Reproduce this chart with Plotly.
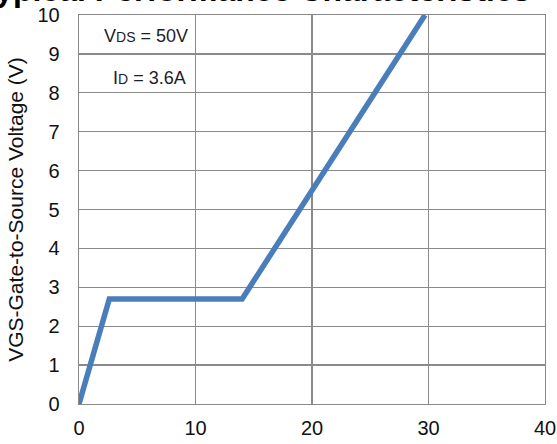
import plotly.graph_objects as go

# Gate charge curve (Qg, VGS)
qg = [0, 2.6, 14.0, 29.7]
vgs = [0, 2.7, 2.7, 10.0]

x_ticks = [0, 10, 20, 30, 40]
y_ticks = [0, 1, 2, 3, 4, 5, 6, 7, 8, 9, 10]

title_text = "Typical Performance Characteristics"
y_title = "VGS-Gate-to-Source Voltage (V)"
note1 = "V<span style='font-size:14px'>DS</span> = 50V"
note2 = "I<span style='font-size:14px'>D</span> = 3.6A"

FONT = "Liberation Sans, Arial, sans-serif"
GRID = "#8a8a8a"

fig = go.Figure()
fig.add_trace(go.Scatter(
    x=qg, y=vgs, mode="lines",
    line=dict(color="#4a7ebb", width=5.5),
    showlegend=False, hoverinfo="skip",
))

fig.update_layout(
    width=557, height=444,
    margin=dict(l=79, r=12, t=15, b=40),
    paper_bgcolor="white", plot_bgcolor="white",
    font=dict(family=FONT, size=20, color="#111"),
    showlegend=False,
)

fig.update_xaxes(
    range=[0, 40], tickvals=x_ticks, ticktext=[str(v) for v in x_ticks],
    showgrid=True, gridcolor=GRID, gridwidth=1.3,
    showline=True, linecolor=GRID, linewidth=1.3, mirror=True,
    zeroline=False, ticks="", ticklabelstandoff=6, automargin=False,
    tickfont=dict(family=FONT, size=20, color="#111"),
)
fig.update_yaxes(
    range=[0, 10], tickvals=y_ticks, ticktext=[str(v) for v in y_ticks],
    showgrid=True, gridcolor=GRID, gridwidth=1.3,
    showline=True, linecolor=GRID, linewidth=1.3, mirror=True,
    zeroline=False, ticks="", ticklabelstandoff=14, automargin=False,
    tickfont=dict(family=FONT, size=20, color="#111"),
    title=dict(text=y_title, font=dict(family=FONT, size=21, color="#111"), standoff=8),
)

fig.add_annotation(
    text=title_text, xref="paper", yref="paper", x=0.377, y=1,
    xanchor="center", yanchor="bottom", yshift=5, showarrow=False,
    font=dict(family=FONT, size=32, color="#000", weight="bold"),
)
fig.add_annotation(
    text=note1, xref="x", yref="y", x=10, y=9.46, xanchor="right", yanchor="middle",
    xshift=-6, showarrow=False, font=dict(family=FONT, size=18, color="#1c1c2c"),
)
fig.add_annotation(
    text=note2, xref="x", yref="y", x=10, y=8.39, xanchor="right", yanchor="middle",
    xshift=-8, showarrow=False, font=dict(family=FONT, size=18, color="#1c1c2c"),
)

fig.write_html(
    "out.html",
    config={"displayModeBar": False, "staticPlot": True},
    post_script="document.body.style.margin='0';document.body.style.overflow='hidden';",
)
